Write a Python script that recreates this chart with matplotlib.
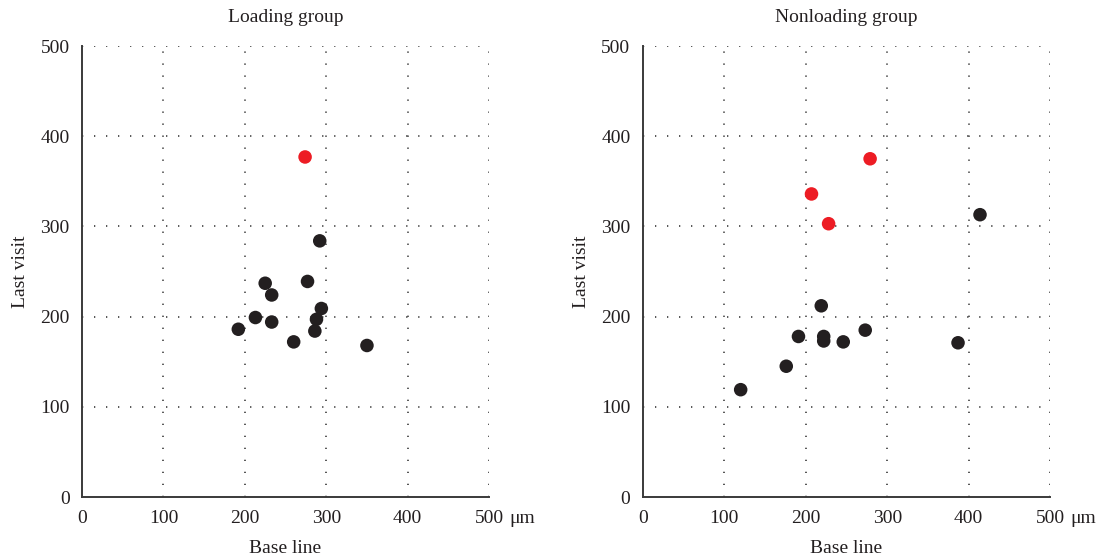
import matplotlib
matplotlib.use("Agg")
import matplotlib.pyplot as plt
import numpy as np

plt.rcParams["font.family"] = ["Liberation Serif", "DejaVu Serif"]

# Loading group (baseline vs last visit, µm)
loading_x = [225, 277, 233, 213, 233, 294, 288, 192, 286, 260, 350, 292]
loading_y = [237, 239, 224, 199, 194, 209, 197, 186, 184, 172, 168, 284]
loading_red_x = [274]
loading_red_y = [377]

# Nonloading group
nonloading_x = [219, 191, 222, 222, 246, 273, 414, 387, 120, 176]
nonloading_y = [212, 178, 178, 173, 172, 185, 313, 171, 119, 145]
nonloading_red_x = [279, 207, 228]
nonloading_red_y = [375, 336, 303]

titles = ["Loading group", "Nonloading group"]
ticks = [0, 100, 200, 300, 400, 500]

BLACK = "#231f20"
RED = "#ed1c24"
GRID = "#444444"

fig = plt.figure(figsize=(11.01, 5.58), dpi=100)
ax_left = fig.add_axes([0.0745, 0.1093, 0.3697, 0.8082])
ax_right = fig.add_axes([0.5840, 0.1093, 0.3697, 0.8082])

panels = [
    (ax_left, loading_x, loading_y, loading_red_x, loading_red_y),
    (ax_right, nonloading_x, nonloading_y, nonloading_red_x, nonloading_red_y),
]

for (ax, xs, ys, rx, ry), title in zip(panels, titles):
    ax.set_xlim(0, 500)
    ax.set_ylim(0, 500)
    # sparse dotted grid: ~12 px between dots
    for t in ticks[1:]:
        ax.axvline(t, color=GRID, lw=1.3, ls=(0, (0.7, 5.95)), zorder=0)
        ax.axhline(t, color=GRID, lw=1.3, ls=(0, (0.7, 5.95)), zorder=0)

    ax.scatter(xs, ys, s=95, color=BLACK, edgecolors="none", zorder=3)
    ax.scatter(rx, ry, s=95, color=RED, edgecolors="none", zorder=3)

    for side in ("top", "right"):
        ax.spines[side].set_visible(False)
    for side in ("left", "bottom"):
        ax.spines[side].set_color("#3a3a3a")
        ax.spines[side].set_linewidth(1.4)

    ax.set_xticks(ticks)
    ax.set_yticks(ticks)
    ax.tick_params(length=0, labelsize=14, colors="#231f20", pad=9)
    ax.annotate("μm", xy=(500, 0), xycoords="data", xytext=(14.5, -9),
                textcoords="offset points", ha="left", va="top",
                fontsize=14, color="#231f20")

    ax.set_title(title, fontsize=14, color="#231f20", pad=17)
    ax.set_xlabel("Base line", fontsize=14, color="#231f20", labelpad=10)
    ax.set_ylabel("Last visit", fontsize=14, color="#231f20", labelpad=8)

fig.savefig("out.png", dpi=100)
